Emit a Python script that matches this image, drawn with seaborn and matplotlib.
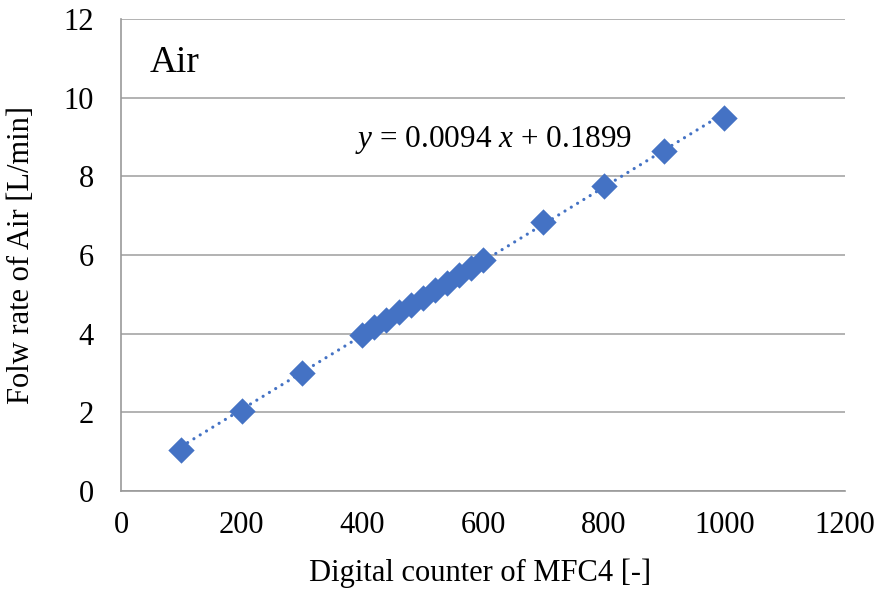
import numpy as np
import pandas as pd
import matplotlib
matplotlib.use('Agg')
import matplotlib.pyplot as plt
import seaborn as sns

# --- data ---
counter = [100, 200, 300, 400, 420, 440, 460, 480, 500, 520, 540,
           560, 580, 600, 700, 800, 900, 1000]
flow = [1.05, 2.03, 3.00, 3.97, 4.16, 4.35, 4.54, 4.72, 4.91, 5.10, 5.29,
        5.48, 5.68, 5.88, 6.83, 7.75, 8.64, 9.48]
x_ticks = [0, 200, 400, 600, 800, 1000, 1200]
y_ticks = [0, 2, 4, 6, 8, 10, 12]

df = pd.DataFrame({'counter': counter, 'flow': flow})

sns.set_style('white')
plt.rcParams['font.family'] = ['Liberation Serif', 'DejaVu Serif']
plt.rcParams['mathtext.fontset'] = 'custom'
plt.rcParams['mathtext.rm'] = 'Liberation Serif'
plt.rcParams['mathtext.it'] = 'Liberation Serif:italic'
plt.rcParams['text.color'] = 'black'
plt.rcParams['axes.labelcolor'] = 'black'

fig = plt.figure(figsize=(8.79, 5.94), dpi=100)
ax = fig.add_axes([121 / 879, 1 - 491 / 594, (845 - 121) / 879, (491 - 19) / 594])

blue = '#4472C4'

# linear trend line (dotted)
coef = np.polyfit(df['counter'], df['flow'], 1)
xl = np.array([df['counter'].min(), df['counter'].max()])
ax.plot(xl, np.polyval(coef, xl), linestyle=(0, (0.01, 2.3)), color=blue,
        linewidth=2.3, dash_capstyle='round', zorder=2)

sns.scatterplot(data=df, x='counter', y='flow', marker='D', s=180,
                color=blue, edgecolor=blue, linewidth=0, ax=ax, zorder=3)

ax.set_xlim(0, 1200)
ax.set_ylim(0, 12)
ax.set_xticks(x_ticks)
ax.set_yticks(y_ticks)
ax.tick_params(labelsize=22, length=6.5, width=1.2, color='#999999',
               labelcolor='black', direction='out')
ax.tick_params(axis='x', pad=8)
ax.tick_params(axis='y', pad=13)
ax.yaxis.grid(True, color='#a6a6a6', linewidth=1.2)
ax.xaxis.grid(False)
for side in ['top', 'right']:
    ax.spines[side].set_visible(False)
for side in ['left', 'bottom']:
    ax.spines[side].set_color('#999999')
    ax.spines[side].set_linewidth(1.2)

ax.set_xlabel('Digital counter of MFC4 [-]', fontsize=22)
ax.set_ylabel('Folw rate of Air [L/min]', fontsize=22)
ax.xaxis.set_label_coords(0.496, -0.174)
ax.xaxis.label.set_va('center')
ax.yaxis.set_label_coords(-0.137, 0.5)
ax.yaxis.label.set_va('center')

ax.text(47, 10.88, 'Air', fontsize=27, va='center', ha='left')
ax.text(388, 8.92, r'$y$ = 0.0094 $x$ + 0.1899', fontsize=22.5, va='center', ha='left')

fig.savefig('out.png', dpi=100)
